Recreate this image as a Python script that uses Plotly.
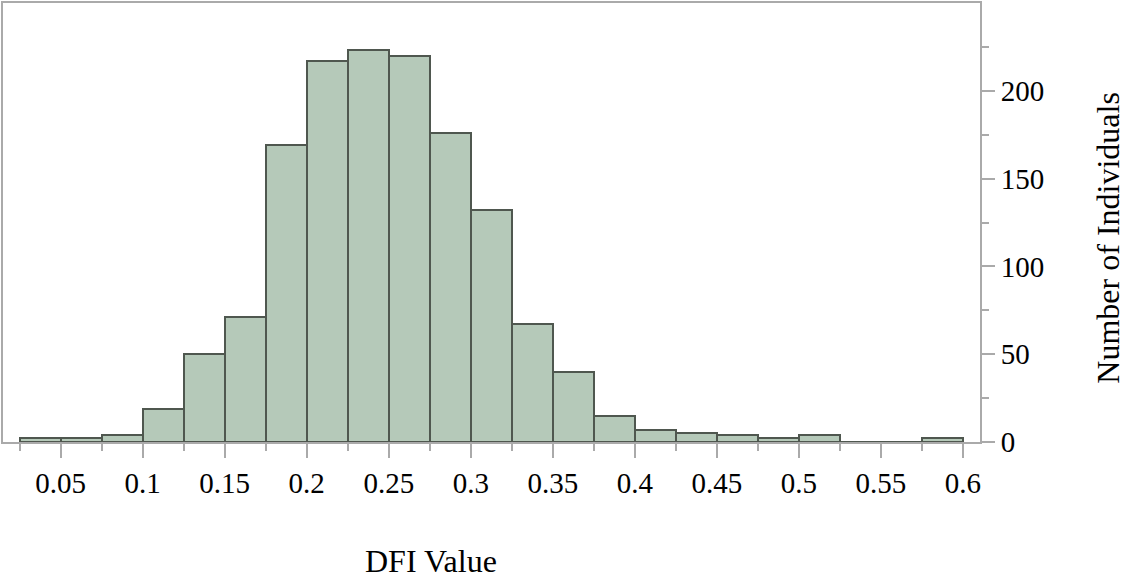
import numpy as np
import plotly.graph_objects as go

bin_width = 0.025
bin_starts = [0.025, 0.05, 0.075, 0.1, 0.125, 0.15, 0.175, 0.2, 0.225, 0.25,
              0.275, 0.3, 0.325, 0.35, 0.375, 0.4, 0.425, 0.45, 0.475, 0.5,
              0.525, 0.55, 0.575]
counts = [2, 2, 4, 19, 50, 71, 169, 217, 223, 220,
          176, 132, 67, 40, 15, 7, 5, 4, 2, 4,
          0, 0, 2]

x_title = "DFI Value"
y_title = "Number of Individuals"
x_tickvals = [0.05, 0.1, 0.15, 0.2, 0.25, 0.3, 0.35, 0.4, 0.45, 0.5, 0.55, 0.6]
x_ticktext = ["0.05", "0.1", "0.15", "0.2", "0.25", "0.3", "0.35", "0.4", "0.45", "0.5", "0.55", "0.6"]
y_tickvals = [0, 50, 100, 150, 200]

centers = np.array(bin_starts) + bin_width / 2

FONT = "Liberation Serif, Times New Roman, serif"
GRID = "#aaaaaa"

fig = go.Figure(
    go.Bar(
        x=centers,
        y=counts,
        width=bin_width,
        marker=dict(color="#b5c9b9", line=dict(color="#4f574f", width=2)),
        hoverinfo="x+y",
    )
)

fig.update_layout(
    width=1128,
    height=580,
    margin=dict(l=2, r=148, t=1, b=138),
    plot_bgcolor="white",
    paper_bgcolor="white",
    bargap=0,
    showlegend=False,
    font=dict(family=FONT, size=29, color="black"),
    xaxis=dict(
        range=[0.0148, 0.6105],
        tickvals=x_tickvals,
        ticktext=x_ticktext,
        ticks="outside",
        ticklen=14,
        tickwidth=2,
        tickcolor=GRID,
        showline=True,
        linecolor=GRID,
        linewidth=2,
        mirror=True,
        showgrid=False,
        zeroline=False,
        tickfont=dict(family=FONT, size=29, color="black"),
        minor=dict(tick0=0.025, dtick=0.05, ticks="outside", ticklen=7,
                   tickwidth=2, tickcolor=GRID, showgrid=False),
    ),
    yaxis=dict(
        side="right",
        range=[0, 250],
        tickvals=y_tickvals,
        ticks="outside",
        ticklen=13,
        tickwidth=2,
        tickcolor=GRID,
        showline=True,
        linecolor=GRID,
        linewidth=2,
        mirror=True,
        showgrid=False,
        zeroline=False,
        tickfont=dict(family=FONT, size=29, color="black"),
        minor=dict(tick0=25, dtick=50, ticks="outside", ticklen=7,
                   tickwidth=2, tickcolor=GRID, showgrid=False),
    ),
    annotations=[
        dict(text=x_title, xref="paper", yref="paper", x=0.438, y=-0.272,
             xanchor="center", yanchor="middle", showarrow=False,
             font=dict(family=FONT, size=32, color="black")),
        dict(text=y_title, xref="paper", yref="paper", x=1.131, y=0.4655,
             xanchor="center", yanchor="middle", showarrow=False, textangle=-90,
             font=dict(family=FONT, size=32, color="black")),
    ],
)

fig.write_html("out.html")
